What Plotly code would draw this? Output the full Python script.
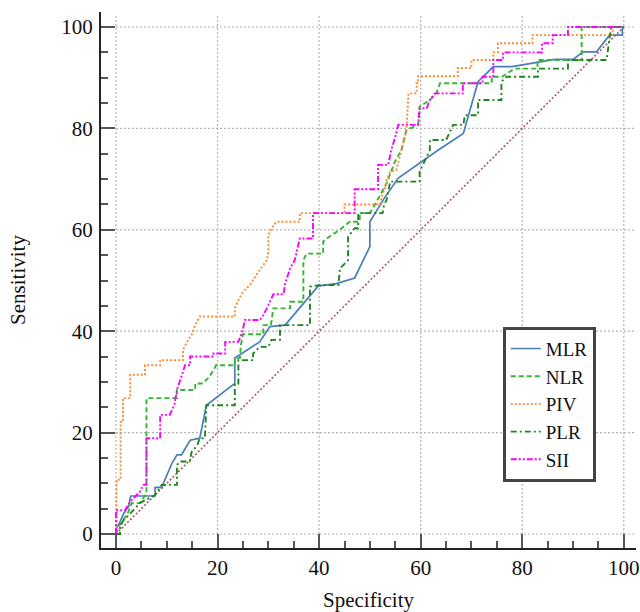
import plotly.graph_objects as go

# ---- data ----
series_names = ["MLR", "NLR", "PIV", "PLR", "SII"]

MLR_x = [0, 0, 0.8, 1.5, 2.5, 2.9, 7.7, 7.7, 9, 11, 12, 12.9, 14.6, 16.5, 17.8, 23.4, 23.4, 28.3, 30.3, 33.3,
         39.8, 43.4, 47, 50, 50, 53, 55.6, 63.4, 68.4, 71.3, 74.3, 78, 86.4, 90, 92, 94.6, 97.2, 99.7, 99.7, 100]
MLR_y = [0, 1, 2.4, 4, 5.5, 7.5, 7.5, 9.2, 9.2, 13.9, 15.6, 15.6, 18.5, 18.9, 25.4, 29.7, 34.7, 37.9, 40.9, 41.2,
         48.9, 49.4, 50.5, 56.7, 61.6, 66.5, 70.2, 75.7, 79, 89.2, 92.2, 92.2, 93.6, 93.6, 95.1, 95.1, 98.4, 98.4, 100, 100]

NLR_x = [0, 0.5, 1.5, 2.5, 3.1, 4.7, 6, 6, 12, 12, 15.6, 15.6, 17.1, 18.4, 19.4, 19.7, 23.4, 23.4, 24.4, 24.6,
         25, 29, 29, 30.5, 31, 34.3, 34.3, 36.9, 36.9, 37.5, 40.8, 40.8, 42.5, 44.1, 46, 48, 48, 50, 51, 53.3,
         54.3, 54.9, 56.2, 57.2, 59.5, 59.8, 61.8, 63.1, 63.8, 74, 74, 76, 78.5, 83, 83, 91.7, 91.7, 100]
NLR_y = [0, 1.4, 2.8, 4.5, 6.1, 6.1, 8, 26.8, 26.8, 28.4, 28.4, 29.7, 29.7, 31, 32.7, 33.3, 33.3, 34.7, 34.7, 37.3,
         39.4, 39.4, 41.2, 41.2, 44.5, 44.5, 45.8, 45.8, 54, 55.3, 55.3, 57.7, 59, 60, 61.6, 61.6, 63.3, 63.3, 65, 69.2,
         71.8, 73.4, 75.7, 79.7, 80.7, 84.3, 85.6, 86.9, 88.9, 88.9, 90.2, 90.2, 91.8, 91.8, 93.5, 93.5, 100, 100]

PIV_x = [0, 0.1, 0.1, 0.9, 0.9, 1.4, 1.4, 2.8, 2.8, 5.7, 5.7, 8.7, 8.7, 13.2, 13.2, 14, 15, 15.6, 16.5, 23.4,
         23.4, 24.1, 25, 26.5, 27.5, 28.5, 29.7, 30, 30, 30.6, 31.6, 36.2, 36.2, 45, 45, 52, 52.3, 53, 53.3, 54,
         55.2, 56.2, 57.2, 57.6, 59.2, 59.2, 59.5, 59.5, 67.3, 67.3, 70, 70, 74.3, 74.3, 75.2, 75.2, 82, 82, 97.8, 97.8, 100]
PIV_y = [0, 0, 10.7, 10.7, 22.1, 22.1, 26.8, 26.8, 31.4, 31.4, 33.3, 33.3, 34.3, 34.3, 36.3, 37.9, 39.5, 41.2, 42.9, 42.9,
         44.5, 46.1, 47.7, 49.3, 50.9, 52.4, 54, 55.6, 59, 60.2, 61.6, 61.6, 63.3, 63.3, 65, 65, 66.5, 68.2, 69.8, 71.4,
         71.8, 75.7, 79.7, 86.9, 86.9, 88.9, 88.9, 90.3, 90.3, 91.9, 91.9, 93.5, 93.5, 95, 95, 96.8, 96.8, 98.4, 98.4, 100, 100]

PLR_x = [0, 0.8, 0.8, 1.5, 2.5, 3.4, 4.7, 6, 7.7, 9, 12, 12, 12.6, 14.5, 14.9, 16, 16.5, 17.5, 17.8, 23.4,
         23.4, 24.1, 24.1, 27, 27, 28.3, 30, 30.6, 32.3, 32.3, 38.2, 38.2, 40.2, 43.8, 44.1, 45.7, 45.7, 47, 47.7, 47.7,
         52.5, 52.8, 53.3, 54, 59.8, 59.8, 60.5, 61, 61.8, 61.8, 65, 66.4, 68.4, 68.7, 71.3, 71.3, 75.9, 75.9, 76.9, 83.1,
         83.1, 89, 89, 96.6, 97.2, 97.5, 100]
PLR_y = [0, 0, 1.4, 2.8, 3.7, 4.7, 6.1, 6.8, 7.7, 9.7, 9.7, 13.6, 14.3, 14.3, 16.2, 17.5, 18.9, 18.9, 25.4, 25.4,
         29.7, 29.7, 34.3, 34.3, 35.6, 36.9, 36.9, 38.3, 38.3, 41.2, 41.2, 48.8, 49.1, 49.1, 52.4, 54, 58.6, 60.3, 60.3, 63.3,
         63.3, 65, 65.9, 69.5, 69.5, 71.5, 73, 74, 75.7, 77.7, 77.7, 80.7, 80.7, 82.6, 82.6, 85.6, 85.6, 89.2, 90.2, 90.2,
         91.8, 91.8, 93.5, 93.5, 98.4, 100, 100]

SII_x = [0, 0, 1.8, 2.8, 4.7, 5.4, 6, 6, 8.7, 8.7, 10.6, 11.5, 12, 12.9, 13.6, 14.6, 14.6, 19.2, 19.2, 21.5,
         21.5, 24.1, 24.8, 25.4, 28.3, 28.8, 29.7, 31, 33, 33.3, 34.3, 35.2, 36.2, 38.8, 38.8, 47, 47, 51.6, 51.6, 53.6,
         54.2, 54.9, 55.6, 59.5, 59.8, 61.2, 61.8, 62.8, 68.3, 68.3, 72.2, 72.2, 74.3, 74.3, 76.2, 76.2, 83.9, 83.9, 86, 86,
         89, 89, 100]
SII_y = [0, 4.7, 4.7, 6.4, 8.3, 9.7, 9.7, 18.9, 18.9, 23.5, 23.5, 25.5, 28.4, 31.4, 33.3, 33.3, 35, 35, 35.6, 35.6,
         37.9, 37.9, 39.6, 42.2, 42.2, 42.8, 44.5, 47.3, 47.3, 49.4, 52.4, 54, 58.3, 58.3, 63.3, 63.3, 68, 68, 72.8, 72.8,
         75.7, 78, 80.7, 80.7, 84, 84, 85.6, 86.9, 86.9, 88.9, 88.9, 90.2, 90.2, 93.5, 93.5, 95, 95, 96.8, 96.8, 98.4,
         98.4, 100, 100]

diag_x = [0, 100]
diag_y = [0, 100]

tick_vals = [0, 20, 40, 60, 80, 100]
tick_text = ["0", "20", "40", "60", "80", "100"]

# ---- styles ----
styles = {
    "MLR": dict(color="#4a7ebb", dash="solid", width=1.7),
    "NLR": dict(color="#35b535", dash="5px,3px", width=1.9),
    "PIV": dict(color="#ff8a30", dash="2px,2px", width=1.9),
    "PLR": dict(color="#1e861e", dash="6px,3px,2px,3px", width=1.9),
    "SII": dict(color="#ff00ff", dash="6px,2px,2px,2px,2px,2px", width=1.9),
}
data = {"MLR": (MLR_x, MLR_y), "NLR": (NLR_x, NLR_y), "PIV": (PIV_x, PIV_y),
        "PLR": (PLR_x, PLR_y), "SII": (SII_x, SII_y)}

FONT = "Liberation Serif"
fig = go.Figure()

fig.add_trace(go.Scatter(x=diag_x, y=diag_y, mode="lines", showlegend=False, hoverinfo="skip",
                         line=dict(color="#a85a5a", dash="2px,2px", width=1.6)))
for name in series_names:
    xs, ys = data[name]
    fig.add_trace(go.Scatter(x=xs, y=ys, mode="lines", name=name, line=styles[name]))

XMIN, XMAX = -2.95, 102.4
YMIN, YMAX = -2.76, 102.96

shapes = []
for v in tick_vals:
    shapes.append(dict(type="line", xref="x", yref="y", x0=v, x1=v, y0=0, y1=102.4,
                       line=dict(color="#b4b4b4", width=1.2, dash="2px,2px"), layer="below"))
    shapes.append(dict(type="line", xref="x", yref="y", x0=0, x1=XMAX, y0=v, y1=v,
                       line=dict(color="#b4b4b4", width=1.2, dash="2px,2px"), layer="below"))

axis_common = dict(
    showgrid=False, zeroline=False, showline=True, linecolor="#222", linewidth=2,
    ticks="inside", ticklen=14, tickwidth=2, tickcolor="#555",
    tickvals=tick_vals, ticktext=tick_text,
    tickfont=dict(family=FONT, size=21, color="#111"),
    minor=dict(ticks="inside", ticklen=7, tickwidth=2, tickcolor="#555", dtick=5, showgrid=False),
    automargin=False,
)

fig.update_layout(
    width=640, height=612,
    margin=dict(l=101, r=4, t=12, b=64),
    paper_bgcolor="white", plot_bgcolor="white",
    shapes=shapes,
    xaxis=dict(range=[XMIN, XMAX], title=dict(text="Specificity", font=dict(family=FONT, size=21, color="#111"),
                                              standoff=15), **axis_common),
    yaxis=dict(range=[YMIN, YMAX], title=dict(text="Sensitivity", font=dict(family=FONT, size=21, color="#111"),
                                              standoff=30), ticklabelstandoff=2, **axis_common),
    legend=dict(x=0.751, y=0.413, xanchor="left", yanchor="top",
                bordercolor="#444", borderwidth=3, bgcolor="white",
                font=dict(family=FONT, size=19, color="#111"),
                itemwidth=30, tracegroupgap=0),
    showlegend=True,
)

fig.write_html("out.html", config={"displayModeBar": False},
               post_script="document.body.style.margin='0';document.body.style.overflow='hidden';")
